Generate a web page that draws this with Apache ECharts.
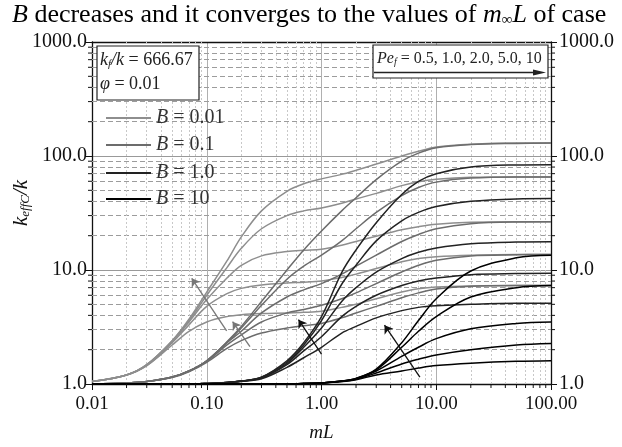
<!DOCTYPE html>
<html><head><meta charset="utf-8">
<script src="https://cdn.jsdelivr.net/npm/echarts@6/dist/echarts.min.js"></script>
<style>html,body{margin:0;padding:0;background:#fff}#c{width:622px;height:447px}</style>
</head><body><div id="c"></div>
<script>
const mL = [0.01,0.02,0.03,0.05,0.07,0.1,0.15,0.2,0.3,0.5,0.7,1,1.5,2,3,5,7,10,20,50,100];
const xTickLabels = ['0.01','0.10','1.00','10.00','100.00'];
const yTickLabels = ['1.0','10.0','100.0','1000.0'];
const groupNames = ['B = 0.01','B = 0.1','B = 1.0','B = 10'];
const peValues = [0.5,1.0,2.0,5.0,10];
// B = 0.01   (values of keffC/k at each mL)
const b001_pe05 = [1.05,1.2,1.45,2.2,2.9,3.5,3.9,4.05,4.15,4.2,4.25,4.35,4.7,5.0,5.6,6.4,6.85,7.1,7.25,7.3,7.3];
const b001_pe1  = [1.05,1.2,1.45,2.3,3.3,4.8,6.2,6.9,7.4,7.7,7.8,8.0,8.6,9.2,10.3,11.8,12.6,13.1,13.5,13.7,13.7];
const b001_pe2  = [1.05,1.2,1.47,2.35,3.5,5.5,8.5,11,13.3,14.5,14.9,15.2,16.5,17.8,19.8,22.5,24,25.2,26.2,26.5,26.5];
const b001_pe5  = [1.05,1.2,1.48,2.4,3.6,6.0,10.5,15.5,23,30,33,35,38.5,42,47,55,59.5,62.5,65,65.5,65.5];
const b001_pe10 = [1.05,1.2,1.48,2.4,3.7,6.4,12,19.5,33,49,57,63,69,75,85,100,110,120,127,130,130];
// B = 0.1
const b01_pe05 = [1.0,1.02,1.05,1.14,1.28,1.55,2.05,2.4,2.8,3.1,3.25,3.4,3.8,4.2,4.8,5.7,6.3,6.8,7.2,7.3,7.3];
const b01_pe1  = [1.0,1.02,1.05,1.15,1.3,1.58,2.2,2.7,3.5,4.2,4.5,4.9,5.6,6.3,7.6,9.6,11,12.2,13.3,13.6,13.7];
const b01_pe2  = [1.0,1.02,1.05,1.15,1.3,1.6,2.3,2.9,4.2,5.8,6.7,7.6,9.2,10.8,13.5,17.8,20.5,23,25.5,26.4,26.5];
const b01_pe5  = [1.0,1.02,1.05,1.15,1.3,1.6,2.32,3.1,4.9,8.3,10.8,13.5,18,23,32,45,53,59,64,65.5,65.5];
const b01_pe10 = [1.0,1.02,1.05,1.15,1.3,1.6,2.35,3.2,5.3,10,15,22,33,43,62,90,106,118,126,129,130];
// B = 1.0
const b1_pe05 = [1,1,1,1,1,1.01,1.03,1.05,1.11,1.4,1.7,2.1,2.8,3.2,3.8,4.4,4.7,4.85,5.0,5.1,5.1];
const b1_pe1  = [1,1,1,1,1,1.01,1.03,1.06,1.13,1.48,1.95,2.6,3.9,4.8,6.0,7.3,8.0,8.5,9.1,9.3,9.35];
const b1_pe2  = [1,1,1,1,1,1.01,1.03,1.06,1.14,1.52,2.1,3.1,5.3,7.0,9.6,12.6,14.3,15.6,17,17.6,17.7];
const b1_pe5  = [1,1,1,1,1,1.01,1.03,1.06,1.15,1.56,2.2,3.6,7.5,11,18,27,32,36,40,42,42.3];
const b1_pe10 = [1,1,1,1,1,1.01,1.03,1.06,1.15,1.6,2.3,3.9,9.5,15,26,46,60,70,80,83.5,84];
// B = 10
const b10_pe05 = [1,1,1,1,1,1,1,1,1,1,1.01,1.02,1.05,1.09,1.2,1.3,1.38,1.45,1.52,1.58,1.6];
const b10_pe1  = [1,1,1,1,1,1,1,1,1,1,1.01,1.02,1.05,1.1,1.25,1.5,1.65,1.8,2.0,2.2,2.27];
const b10_pe2  = [1,1,1,1,1,1,1,1,1,1,1.01,1.02,1.06,1.11,1.3,1.75,2.1,2.5,3.05,3.4,3.5];
const b10_pe5  = [1,1,1,1,1,1,1,1,1,1,1.01,1.02,1.06,1.12,1.33,2.1,2.9,3.9,5.8,7.0,7.3];
const b10_pe10 = [1,1,1,1,1,1,1,1,1,1,1.01,1.02,1.06,1.12,1.35,2.3,3.6,5.6,9.8,12.8,13.5];
// arrows (tail -> head), in data coordinates [mL, keffC/k]
const arrowTails = [[0.149,2.93],[0.238,2.13],[1.0,1.83],[7.2,1.15]];
const arrowHeads = [[0.074,8.46],[0.168,3.52],[0.63,3.67],[3.54,3.28]];

const groups = [
  [b001_pe05,b001_pe1,b001_pe2,b001_pe5,b001_pe10],
  [b01_pe05,b01_pe1,b01_pe2,b01_pe5,b01_pe10],
  [b1_pe05,b1_pe1,b1_pe2,b1_pe5,b1_pe10],
  [b10_pe05,b10_pe1,b10_pe2,b10_pe5,b10_pe10]
];
const groupColors = ['#8e8e8e','#6c6c6c','#222222','#000000'];
const arrowColors = ['#777777','#777777','#111111','#111111'];
const serif = '"Liberation Serif","DejaVu Serif",serif';

const minorX = [], minorY = [];
for (let e=-2;e<2;e++) for (let m=2;m<=9;m++) minorX.push(+(m*Math.pow(10,e)).toPrecision(3));
for (let e=0;e<3;e++) for (let m=2;m<=9;m++) minorY.push(+(m*Math.pow(10,e)).toPrecision(3));

const series = [];
groups.forEach((g,gi)=>{
  g.forEach((vals)=>{
    series.push({
      name: groupNames[gi], type:'line', smooth:0.35, symbol:'none',
      lineStyle:{color:groupColors[gi], width:1.5},
      data: mL.map((x,i)=>[x, vals[i]]), z: 5+gi, silent:true
    });
  });
});
// minor grid lines
series.push({
  type:'line', data:[], silent:true, symbol:'none', z:1,
  markLine:{silent:true, symbol:'none', label:{show:false}, animation:false,
    lineStyle:{color:'#9c9c9c', type:[5,3], width:1},
    data: minorY.map(v=>({yAxis:v}))}
});
series.push({
  type:'line', data:[], silent:true, symbol:'none', z:1,
  markLine:{silent:true, symbol:'none', label:{show:false}, animation:false,
    lineStyle:{color:'#c8c8c8', type:[2,2], width:1},
    data: minorX.map(v=>({xAxis:v}))}
});
// minor ticks on the axes
series.push({
  type:'custom', silent:true, clip:false, z:10,
  data: minorX.map(v=>[0,v]).concat(minorY.map(v=>[1,v])),
  renderItem:(params, api)=>{
    const kind = api.value(0), v = api.value(1);
    const st = {stroke:'#111', lineWidth:1};
    if (kind===0) {
      const p = api.coord([v, 1]);
      return {type:'line', shape:{x1:p[0], y1:p[1], x2:p[0], y2:p[1]+4}, style:st};
    }
    const a = api.coord([0.01, v]), b = api.coord([100, v]);
    return {type:'group', children:[
      {type:'line', shape:{x1:a[0]-4, y1:a[1], x2:a[0], y2:a[1]}, style:st},
      {type:'line', shape:{x1:b[0], y1:b[1], x2:b[0]+4, y2:b[1]}, style:st}
    ]};
  }
});
// arrows
series.push({
  type:'lines', coordinateSystem:'cartesian2d', silent:true, z:20,
  symbol:['none','arrow'], symbolSize:[0,8],
  data: arrowTails.map((t,i)=>({coords:[t, arrowHeads[i]], lineStyle:{color:arrowColors[i], width:1.3, opacity:1}}))
});

const yFont = {fontFamily:serif, fontSize:20, color:'#111'};
const xFont = {fontFamily:serif, fontSize:19, color:'#111'};

// legend drawn as graphic elements (line sample + label)
const legendRowsY = [118,145,173,199];
const legendGraphics = [];
groupNames.forEach((n,i)=>{
  legendGraphics.push({type:'line', z:30, shape:{x1:106, y1:legendRowsY[i], x2:151, y2:legendRowsY[i]}, style:{stroke:groupColors[i], lineWidth:1.8}});
  legendGraphics.push({type:'text', z:30, x:156, y:legendRowsY[i], style:{text:'{i|B} = '+n.split('= ')[1], fontFamily:serif, fontSize:20, fill:'#333', verticalAlign:'middle',
    rich:{i:{fontFamily:serif, fontSize:20, fontStyle:'italic', fill:'#333'}}}});
});

const option = {
  animation:false,
  title:{
    text:'{i|B} decreases and it converges to the values of {i|m}{s|∞}{i|L} of case',
    left:7, top:-3,
    textStyle:{fontFamily:serif, fontSize:26, fontWeight:'normal', color:'#000',
      rich:{i:{fontFamily:serif,fontSize:26,fontStyle:'italic'}, s:{fontFamily:serif,fontSize:15,verticalAlign:'bottom',padding:[10,0,0,0]}}}
  },
  grid:{left:92, right:71, top:42, bottom:62},
  xAxis:[{
    type:'log', logBase:10, min:0.01, max:100, position:'bottom',
    name:'mL', nameLocation:'middle', nameGap:39,
    nameTextStyle:{fontFamily:serif, fontSize:19, fontStyle:'italic', color:'#111'},
    axisLine:{lineStyle:{color:'#111', width:1.3}},
    axisTick:{show:true, length:6, lineStyle:{color:'#111'}},
    axisLabel:{...xFont, margin:11, formatter:v=>xTickLabels[Math.round(Math.log10(v))+2]},
    splitLine:{show:true, lineStyle:{color:'#b0b0b0', width:1}}
  },{
    type:'log', logBase:10, min:0.01, max:100, position:'top',
    axisLine:{lineStyle:{color:'#111', width:1.3}}, axisTick:{show:false}, axisLabel:{show:false}, splitLine:{show:false}
  }],
  yAxis:[{
    type:'log', logBase:10, min:1, max:1000, position:'left',
    axisLine:{lineStyle:{color:'#111', width:1.3}},
    axisTick:{show:true, length:6, lineStyle:{color:'#111'}},
    axisLabel:{...yFont, margin:5, formatter:v=>yTickLabels[Math.round(Math.log10(v))]},
    splitLine:{show:true, lineStyle:{color:'#999999', width:1}}
  },{
    type:'log', logBase:10, min:1, max:1000, position:'right',
    axisLine:{lineStyle:{color:'#111', width:1.3}},
    axisTick:{show:true, length:6, lineStyle:{color:'#111'}},
    axisLabel:{...yFont, margin:8, formatter:v=>yTickLabels[Math.round(Math.log10(v))]},
    splitLine:{show:false}
  }],
  graphic:[
    {type:'text', x:21, y:203, rotation:Math.PI/2, z:30,
      style:{text:'{i|k}{s|effC}{i|/k}', fontFamily:serif, fontSize:21, fill:'#111', align:'center', verticalAlign:'middle',
        rich:{i:{fontFamily:serif,fontSize:21,fontStyle:'italic'}, s:{fontFamily:serif,fontSize:13,fontStyle:'italic',padding:[10,0,0,0]}}}},
    {type:'rect', z:30, shape:{x:97, y:46, width:102, height:54}, style:{fill:'#fff', stroke:'#222', lineWidth:1.2}},
    {type:'text', x:100, y:60, z:31, style:{text:'{i|k}{s|f}{i|/k} = 666.67', fontFamily:serif, fontSize:18, fill:'#222', verticalAlign:'middle',
      rich:{i:{fontFamily:serif,fontSize:18,fontStyle:'italic'}, s:{fontFamily:serif,fontSize:11,fontStyle:'italic',padding:[8,0,0,0]}}}},
    {type:'text', x:100, y:84, z:31, style:{text:'{i|φ} = 0.01', fontFamily:serif, fontSize:18, fill:'#222', verticalAlign:'middle',
      rich:{i:{fontFamily:serif,fontSize:18,fontStyle:'italic'}}}},
    {type:'rect', z:30, shape:{x:373, y:45, width:175, height:33}, style:{fill:'#fff', stroke:'#222', lineWidth:1.2}},
    {type:'text', x:377, y:59, z:31, style:{text:'{i|Pe}{s|f} = 0.5, 1.0, 2.0, 5.0, 10', fontFamily:serif, fontSize:16, fill:'#222', verticalAlign:'middle',
      rich:{i:{fontFamily:serif,fontSize:16,fontStyle:'italic'}, s:{fontFamily:serif,fontSize:10,fontStyle:'italic',padding:[7,0,0,0]}}}},
    {type:'line', z:31, shape:{x1:374, y1:72.5, x2:538, y2:72.5}, style:{stroke:'#222', lineWidth:1.3}},
    {type:'polygon', z:31, shape:{points:[[546,72.5],[533,69.5],[533,75.5]]}, style:{fill:'#222'}}
  ].concat(legendGraphics),
  series
};
const chart = echarts.init(document.getElementById('c'), null, {renderer:'canvas'});
chart.setOption(option);
</script></body></html>
